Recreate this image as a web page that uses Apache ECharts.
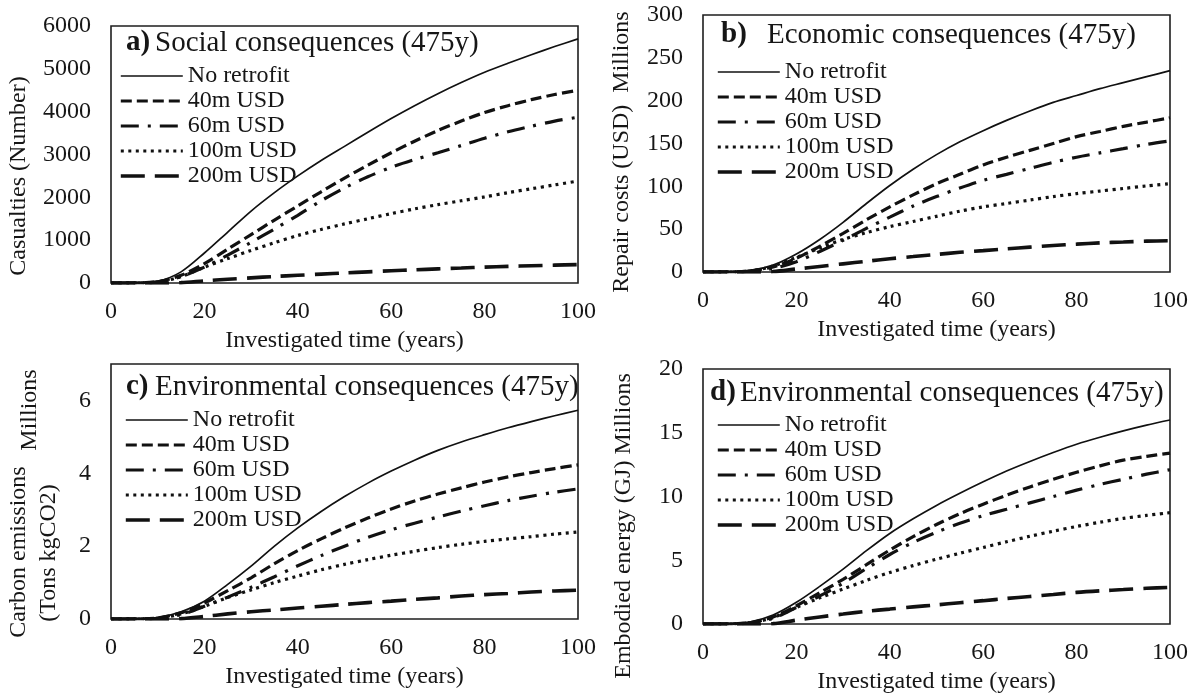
<!DOCTYPE html>
<html>
<head>
<meta charset="utf-8">
<script src="https://cdn.jsdelivr.net/npm/echarts@6/dist/echarts.min.js"></script>
<style>
html,body{margin:0;padding:0;background:#ffffff;}
#chart{width:1195px;height:695px;}
</style>
</head>
<body>
<div id="chart"></div>
<script>
// ---------- data ----------
const years = [0, 5, 10, 15, 20, 25, 30, 35, 40, 45, 50, 55, 60, 65, 70, 75, 80, 85, 90, 95, 100];
const seriesNames = ['No retrofit', '40m USD', '60m USD', '100m USD', '200m USD'];

// a) Social consequences – casualties (number)
const socialNoRetrofit = [0, 5, 40, 260, 700, 1190, 1680, 2110, 2500, 2860, 3190, 3520, 3840, 4140, 4420, 4680, 4920, 5130, 5330, 5520, 5700];
const social40m        = [0, 3, 30, 180, 450, 790, 1130, 1470, 1800, 2130, 2450, 2750, 3040, 3310, 3560, 3780, 3980, 4140, 4280, 4400, 4500];
const social60m        = [0, 2, 25, 150, 370, 650, 950, 1260, 1580, 1920, 2220, 2480, 2700, 2880, 3040, 3210, 3380, 3530, 3660, 3780, 3870];
const social100m       = [0, 2, 20, 150, 370, 570, 760, 940, 1110, 1250, 1380, 1500, 1620, 1730, 1830, 1920, 2010, 2110, 2200, 2290, 2380];
const social200m       = [0, 0, 0, 8, 50, 87, 120, 152, 180, 208, 235, 260, 285, 308, 330, 350, 370, 388, 403, 417, 430];

// b) Economic consequences – repair costs (USD, millions)
const econNoRetrofit = [0, 0.2, 1.5, 8, 21, 38, 58, 80, 101, 120, 137, 152, 165, 177, 188, 198, 206, 214, 221, 228, 235];
const econ40m        = [0, 0.1, 1.2, 6, 16, 30, 45, 61, 76, 90, 103, 114, 125, 134, 142, 150, 158, 164, 170, 175, 180];
const econ60m        = [0, 0.1, 1, 4, 12, 24, 37, 51, 64, 77, 88, 98, 107, 114, 121, 128, 134, 139, 144, 149, 153];
const econ100m       = [0, 0.1, 1, 7, 17, 28, 38, 46, 53, 59, 65, 71, 76, 80, 84, 88, 91.5, 94.5, 97.5, 100.5, 103];
const econ200m       = [0, 0, 0, 0.5, 3.5, 6.5, 9.5, 12.5, 15.5, 18, 20.5, 23, 25, 27, 29, 31, 32.5, 34, 35, 36, 36.5];

// c) Environmental consequences – carbon emissions (millions)
const carbonNoRetrofit = [0, 0.005, 0.04, 0.2, 0.49, 0.95, 1.45, 2.0, 2.5, 2.95, 3.36, 3.73, 4.06, 4.36, 4.63, 4.86, 5.06, 5.25, 5.42, 5.58, 5.73];
const carbon40m        = [0, 0.003, 0.03, 0.17, 0.44, 0.78, 1.13, 1.52, 1.88, 2.2, 2.5, 2.77, 3.02, 3.24, 3.43, 3.6, 3.76, 3.9, 4.02, 4.13, 4.23];
const carbon60m        = [0, 0.002, 0.02, 0.12, 0.35, 0.6, 0.87, 1.16, 1.46, 1.74, 2.0, 2.24, 2.45, 2.63, 2.8, 2.96, 3.11, 3.25, 3.37, 3.48, 3.57];
const carbon100m       = [0, 0.002, 0.02, 0.14, 0.35, 0.59, 0.8, 1.0, 1.18, 1.35, 1.5, 1.63, 1.75, 1.86, 1.96, 2.05, 2.13, 2.2, 2.26, 2.33, 2.39];
const carbon200m       = [0, 0, 0, 0.01, 0.07, 0.14, 0.2, 0.25, 0.3, 0.35, 0.4, 0.45, 0.49, 0.54, 0.58, 0.63, 0.67, 0.7, 0.74, 0.77, 0.79];

// d) Environmental consequences – embodied energy (GJ, millions)
const energyNoRetrofit = [0, 0.02, 0.15, 0.7, 1.7, 2.95, 4.3, 5.75, 7.1, 8.25, 9.3, 10.25, 11.15, 12.0, 12.75, 13.45, 14.1, 14.65, 15.15, 15.6, 16.0];
const energy40m        = [0, 0.01, 0.1, 0.55, 1.43, 2.45, 3.5, 4.65, 5.8, 6.85, 7.8, 8.65, 9.4, 10.1, 10.75, 11.35, 11.9, 12.4, 12.85, 13.15, 13.4];
const energy60m        = [0, 0.01, 0.08, 0.45, 1.3, 2.2, 3.2, 4.35, 5.45, 6.4, 7.2, 7.9, 8.5, 9.0, 9.5, 10.0, 10.5, 10.95, 11.35, 11.75, 12.1];
const energy100m       = [0, 0.01, 0.1, 0.5, 1.3, 2.05, 2.74, 3.42, 4.04, 4.58, 5.08, 5.55, 6.0, 6.45, 6.88, 7.28, 7.65, 7.98, 8.28, 8.52, 8.73];
const energy200m       = [0, 0, 0, 0.03, 0.3, 0.55, 0.78, 1.0, 1.17, 1.34, 1.5, 1.67, 1.83, 2.0, 2.16, 2.32, 2.48, 2.6, 2.7, 2.8, 2.87];

// y-axis scales per panel
const yMax      = [6000, 300, 7, 20];
const yInterval = [1000, 50, 2, 5];

// ---------- presentation ----------
const FONT = '"Liberation Serif", "Times New Roman", serif';
const INK = '#161616';
const panelValues = [
  [socialNoRetrofit, social40m, social60m, social100m, social200m],
  [econNoRetrofit, econ40m, econ60m, econ100m, econ200m],
  [carbonNoRetrofit, carbon40m, carbon60m, carbon100m, carbon200m],
  [energyNoRetrofit, energy40m, energy60m, energy100m, energy200m]
];
const grids = [
  {left: 111, top: 26,  width: 467, height: 257},
  {left: 703, top: 15,  width: 467, height: 257},
  {left: 111, top: 364, width: 467, height: 255},
  {left: 703, top: 369, width: 467, height: 256}
];
const lineStyles = [
  {width: 1.7, type: 'solid'},
  {width: 3.2, type: [11, 5]},
  {width: 3.2, type: [18, 9, 3, 9]},
  {width: 3.2, type: [3, 4.5]},
  {width: 3.6, type: [24, 10]}
];
const legendPos = [
  {left: 119, top: 64},
  {left: 716, top: 60},
  {left: 124, top: 408},
  {left: 716, top: 413}
];

const option = {
  animation: false,
  backgroundColor: '#ffffff',
  textStyle: {fontFamily: FONT, color: INK},
  grid: grids.map(g => Object.assign({show: true, borderColor: '#1e1e1e', borderWidth: 1.6, backgroundColor: 'transparent', containLabel: false}, g)),
  xAxis: grids.map((g, i) => ({
    type: 'value', gridIndex: i, min: 0, max: 100, interval: 20,
    axisLine: {show: false}, axisTick: {show: false}, splitLine: {show: false},
    axisLabel: {fontSize: 24, fontFamily: FONT, color: INK, margin: 17},
    name: 'Investigated time (years)', nameLocation: 'middle', nameGap: 46,
    nameTextStyle: {fontSize: 24, fontFamily: FONT, color: INK}
  })),
  yAxis: grids.map((g, i) => ({
    type: 'value', gridIndex: i, min: 0, max: yMax[i], interval: yInterval[i],
    axisLine: {show: false}, axisTick: {show: false}, splitLine: {show: false},
    axisLabel: {fontSize: 24, fontFamily: FONT, color: INK, margin: 20,
      formatter: v => (v % yInterval[i] === 0 ? String(v) : '')}
  })),
  legend: legendPos.map(p => ({
    data: seriesNames, orient: 'vertical', left: p.left, top: p.top,
    itemWidth: 62, itemHeight: 14, itemGap: 1, padding: 0,
    itemStyle: {opacity: 0},
    lineStyle: {width: 'inherit', type: 'inherit'},
    textStyle: {fontSize: 24, fontFamily: FONT, color: INK},
    selectedMode: false
  })),
  series: [],
  graphic: []
};

panelValues.forEach((vals, p) => {
  vals.forEach((arr, s) => {
    option.series.push({
      type: 'line', name: seriesNames[s], xAxisIndex: p, yAxisIndex: p,
      data: years.map((x, k) => [x, arr[k]]),
      symbol: 'none', smooth: 0.3, silent: true,
      lineStyle: Object.assign({color: '#111111'}, lineStyles[s]),
      itemStyle: {color: '#111111'}
    });
  });
});

function vtext(x, y, text) {
  return {type: 'text', x: x, y: y, rotation: Math.PI / 2, silent: true,
    style: {text: text, fontSize: 24, fontFamily: FONT, fill: INK, align: 'center', verticalAlign: 'middle'}};
}
function htext(x, y, text, size, bold) {
  return {type: 'text', x: x, y: y, silent: true,
    style: {text: text, fontSize: size, fontWeight: bold ? 'bold' : 'normal', fontFamily: FONT, fill: INK, align: 'left', verticalAlign: 'middle'}};
}

option.graphic = [
  // y-axis titles
  vtext(19, 176, 'Casualties (Number)'),
  vtext(622, 152, 'Repair costs (USD)  Millions'),
  vtext(19, 552, 'Carbon emissions'),
  vtext(49, 553, '(Tons kgCO2)'),
  vtext(30, 410, 'Millions'),
  vtext(624, 526, 'Embodied energy (GJ) Millions'),
  // panel titles
  htext(126, 43, 'a)', 29, true),
  htext(155, 43, 'Social consequences (475y)', 29, false),
  htext(721, 35, 'b)', 29, true),
  htext(767, 35, 'Economic consequences (475y)', 29, false),
  htext(126, 387, 'c)', 29, true),
  htext(155, 387, 'Environmental consequences (475y)', 29, false),
  htext(710, 393, 'd)', 29, true),
  htext(740, 393, 'Environmental consequences (475y)', 29, false)
];

const chart = echarts.init(document.getElementById('chart'), null, {renderer: 'canvas'});
chart.setOption(option);
</script>
</body>
</html>
